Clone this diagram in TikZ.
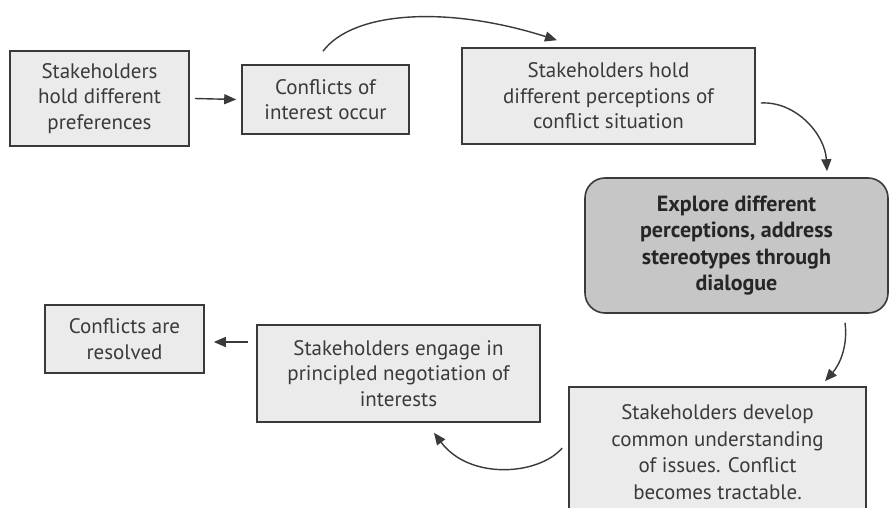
\documentclass[tikz,border=0pt]{standalone}
\usepackage{fontspec}
\setmainfont{PT Sans}
\usetikzlibrary{arrows.meta}
\definecolor{boxfill}{HTML}{EBEBEB}
\definecolor{darkfill}{HTML}{C6C6C6}
\definecolor{edge}{HTML}{3A3A3A}
\definecolor{txt}{HTML}{3A3A3A}
\begin{document}
\begin{tikzpicture}[x=1pt,y=-1pt,
  box/.style={draw=edge, line width=1.6pt, fill=boxfill, align=center, text=txt,
    font=\fontsize{21}{25.5}\selectfont, inner sep=0pt},
  darkbox/.style={draw=edge, line width=1.6pt, fill=darkfill, align=center, text=black!85,
    rounded corners=20pt, font=\fontsize{22}{26.5}\selectfont\bfseries, inner sep=0pt},
  conn/.style={-{Triangle[length=12pt,width=10pt]}, line width=1.4pt, draw=edge}]
\useasboundingbox (0,0) rectangle (889,508);
\fill[white] (0,0) rectangle (889,508);
\clip (0,0) rectangle (889,508);

\node[box, minimum width=179pt, minimum height=95pt] (b1) at (99.5,98.5)
  {Stakeholders\\hold different\\preferences};
\node[box, minimum width=167pt, minimum height=69pt] (b2) at (325.5,99.5)
  {Conflicts of\\interest occur};
\node[box, minimum width=293pt, minimum height=96pt] (b3) at (608.5,96)
  {Stakeholders hold\\different perceptions of\\conflict situation};
\node[darkbox, minimum width=303pt, minimum height=135pt] (b4) at (736.5,245.5)
  {Explore different\\perceptions, address\\stereotypes through\\dialogue};
\node[box, minimum width=159pt, minimum height=68pt] (b5) at (124.5,339)
  {Conflicts are\\resolved};
\node[box, minimum width=283pt, minimum height=97pt] (b6) at (398.5,373.5)
  {Stakeholders engage in\\principled negotiation of\\interests};
\node[box, minimum width=297pt, minimum height=130pt, font=\fontsize{21}{26.7}\selectfont] (b7) at (717.5,452)
  {Stakeholders develop\\common understanding\\of issues. Conflict\\becomes tractable.};

\draw[conn] ([xshift=5pt]b1.east) -- ([xshift=-5pt]b2.west);
\draw[conn] ([xshift=-2.5pt,yshift=13pt]b2.north) .. controls +(30,-40) and +(-110,-35) .. ([xshift=-51.5pt,yshift=7pt]b3.north);
\draw[conn] ([xshift=5pt,yshift=-7pt]b3.east) .. controls +(35,-2) and +(-2,-37) .. ([xshift=90.5pt,yshift=6pt]b4.north);
\draw[conn] ([xshift=108.5pt,yshift=-9pt]b4.south) .. controls +(3,23) and +(15,-17) .. ([xshift=107.5pt,yshift=5pt]b7.north);
\draw[conn] ([xshift=-6pt,yshift=4pt]b7.west) .. controls +(-23,27) and +(36,48) .. ([xshift=35.5pt,yshift=-10pt]b6.south);
\draw[conn] ([xshift=-8pt,yshift=-3pt]b6.west |- b5.east) -- ([xshift=9pt,yshift=-3pt]b5.east);
\end{tikzpicture}
\end{document}
